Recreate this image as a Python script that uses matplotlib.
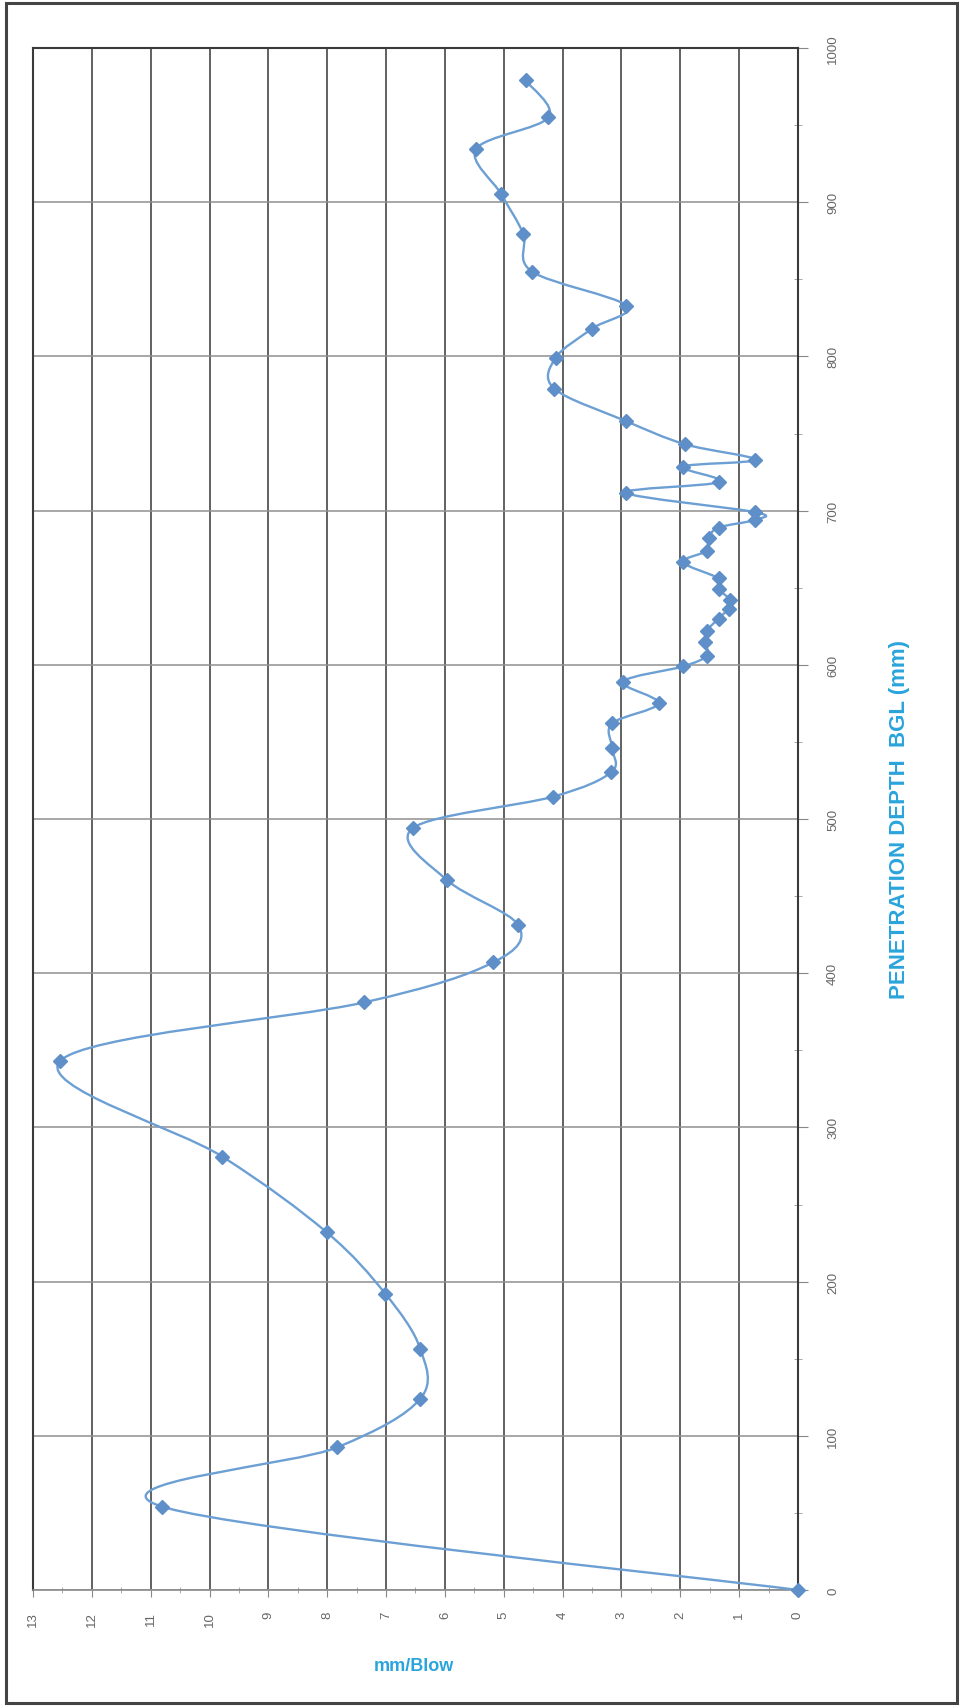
import numpy as np
import matplotlib.pyplot as plt
from matplotlib.path import Path
from matplotlib.patches import PathPatch, Rectangle

plt.rcParams['font.family'] = ['Liberation Sans', 'DejaVu Sans']

# penetration depth below ground level (mm) and blow rate (mm/Blow)
depth = [0, 54, 92.5, 124, 156.5, 192, 232, 281, 343, 381,
         407, 431, 460.5, 494, 514.5, 530.5, 546, 562, 575, 589,
         599, 606, 615, 622, 630, 636.5, 642, 649, 656, 666.5,
         674, 682, 689, 694, 699, 711.5, 718.5, 728.5, 733, 743,
         758, 779, 799, 818, 833, 855, 879.5, 905, 934.5, 955, 979]
mm_per_blow = [0, 10.8, 7.83, 6.42, 6.42, 7.01, 8.01, 9.78, 12.54, 7.38,
               5.18, 4.75, 5.97, 6.55, 4.16, 3.17, 3.16, 3.16, 2.37, 2.97,
               1.95, 1.55, 1.58, 1.55, 1.35, 1.18, 1.15, 1.34, 1.35, 1.95,
               1.55, 1.52, 1.35, 0.73, 0.73, 2.92, 1.34, 1.95, 0.73, 1.92,
               2.92, 4.14, 4.12, 3.5, 2.92, 4.52, 4.67, 5.04, 5.47, 4.24, 4.63]

blow_ticks = list(range(0, 14))
depth_ticks = list(range(0, 1001, 100))

LINE = '#6c9fd3'
MARK = '#5f8fc8'
TITLE = '#2aa4dc'


def smooth_path(xs, ys):
    """Excel style smoothed line: cubic bezier through every point."""
    p = np.column_stack([xs, ys]).astype(float)
    n = len(p)
    verts = [p[0]]
    codes = [Path.MOVETO]
    for i in range(n - 1):
        p0 = p[i - 1] if i > 0 else p[i]
        p3 = p[i + 2] if i + 2 < n else p[i + 1]
        c1 = p[i] + (p[i + 1] - p0) / 6.0
        c2 = p[i + 1] - (p3 - p[i]) / 6.0
        verts += [c1, c2, p[i + 1]]
        codes += [Path.CURVE4] * 3
    return Path(verts, codes)


def main():
    W, H = 962, 1708
    fig = plt.figure(figsize=(W / 100, H / 100), dpi=100)
    ax = fig.add_axes([33 / W, 117 / H, (798 - 33) / W, (1591 - 49) / H])

    ax.set_xlim(13, 0)
    ax.set_ylim(0, 1000)

    ax.add_patch(PathPatch(smooth_path(mm_per_blow, depth), fill=False,
                           edgecolor=LINE, lw=1.7, zorder=3))
    ax.plot(mm_per_blow, depth, ls='none', marker='D', ms=7,
            color=MARK, mec=MARK, zorder=4, clip_on=False)

    ax.set_xticks(blow_ticks)
    ax.set_xticks(np.arange(0, 13.01, 0.5), minor=True)
    ax.set_yticks(depth_ticks)
    ax.set_yticks(np.arange(0, 1001, 50), minor=True)

    ax.grid(axis='x', which='major', color='#555555', lw=1.3)
    ax.grid(axis='y', which='major', color='#8f8f8f', lw=1.1)
    ax.set_axisbelow(True)

    ax.yaxis.tick_right()
    ax.yaxis.set_label_position('right')
    ax.tick_params(axis='x', which='major', direction='out', length=5,
                   color='#888888', labelsize=9.5, labelcolor='#666666',
                   pad=10, labelrotation=90)
    ax.tick_params(axis='x', which='minor', direction='inout', length=5,
                   color='#999999')
    ax.tick_params(axis='y', which='major', direction='out', length=7,
                   color='#888888', labelsize=9.5, labelcolor='#666666',
                   pad=14, labelrotation=90)
    ax.tick_params(axis='y', which='minor', direction='inout', length=6,
                   color='#999999')
    for lab in ax.get_yticklabels():
        lab.set_verticalalignment('center')

    for side in ['left', 'top', 'right']:
        ax.spines[side].set_color('#3a3a3a')
        ax.spines[side].set_linewidth(1.5)
    ax.spines['bottom'].set_color('#8a8a8a')
    ax.spines['bottom'].set_linewidth(1.2)

    ax.set_ylabel('PENETRATION DEPTH  BGL (mm)', color=TITLE, fontsize=16,
                  fontweight='bold', rotation=90, labelpad=36)
    fig.text(414 / W, 1 - 1667 / H, 'mm/Blow', color=TITLE, fontsize=13,
             fontweight='bold', ha='center', va='center')

    fig.patches.append(Rectangle((6 / W, 4 / H), 951 / W, 1700 / H,
                                 transform=fig.transFigure, fill=False,
                                 edgecolor='#444444', lw=2.2))

    fig.savefig('out.png', dpi=100)


if __name__ == '__main__':
    main()
